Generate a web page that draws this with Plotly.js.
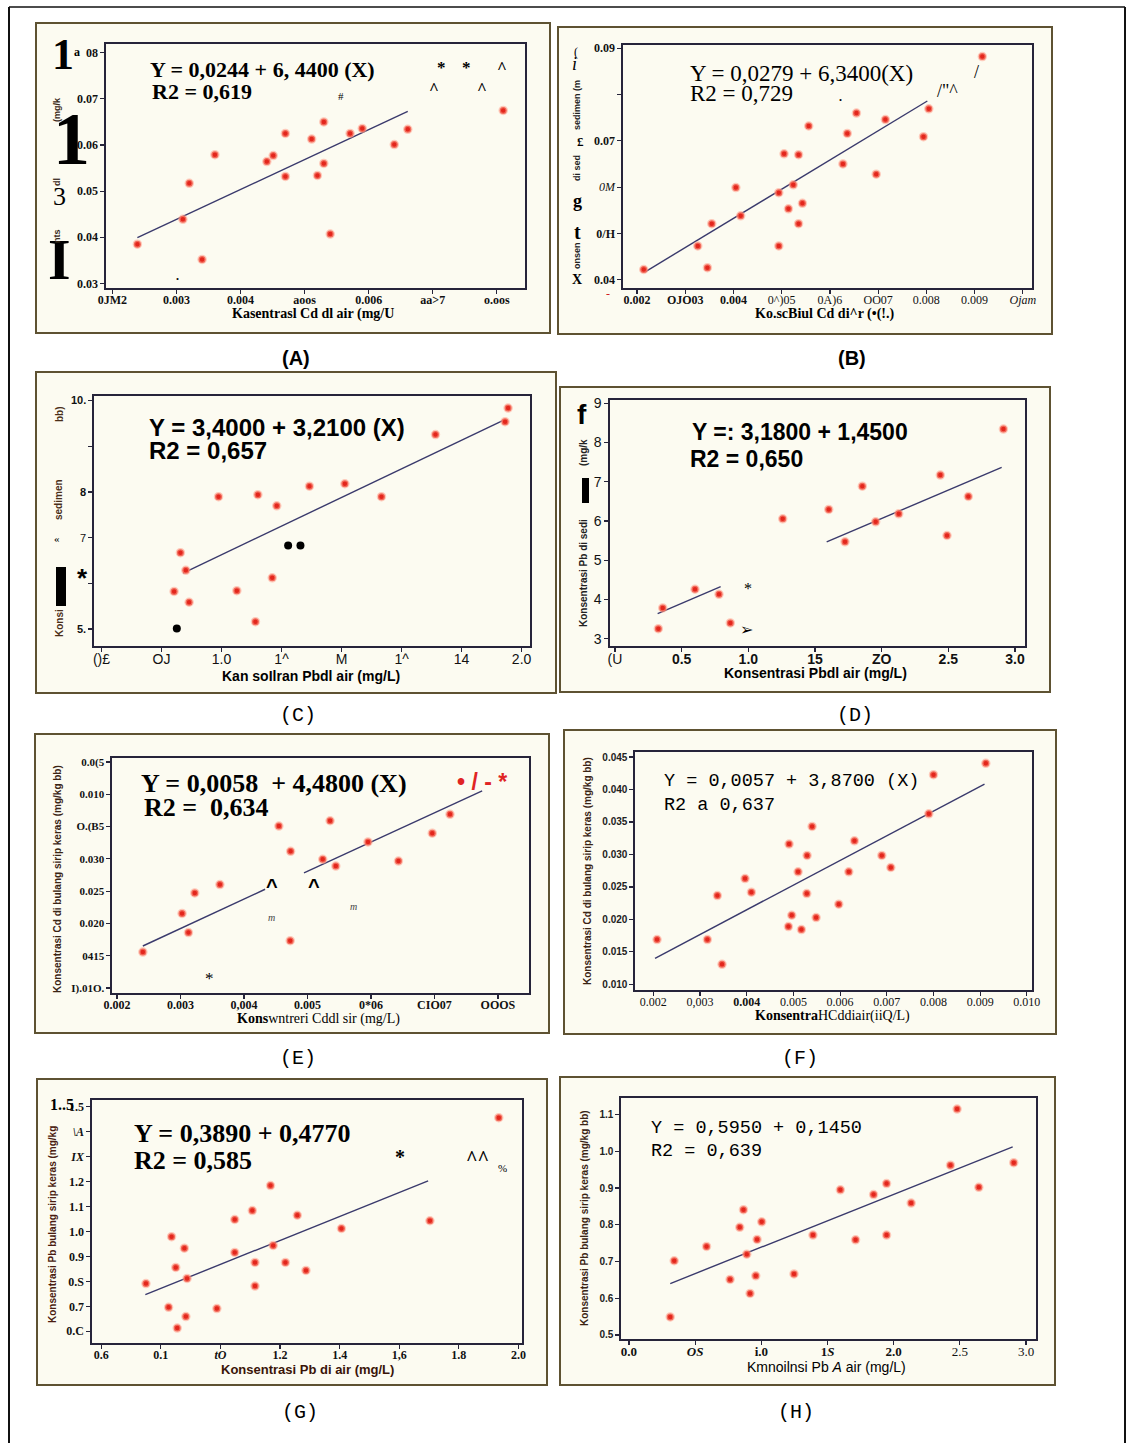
<!DOCTYPE html>
<html><head><meta charset="utf-8">
<script src="https://cdn.plot.ly/plotly-3.0.1.min.js"></script>
<style>html,body{margin:0;padding:0;background:#fff}#chart{width:1132px;height:1443px}</style>
</head><body><div id="chart"></div>
<script>
// ================= DATA =================
// (A) Cd air vs Cd sedimen
const aX=[0.00239,0.00310,0.00320,0.00340,0.00360,0.00441,0.00451,0.00470,0.00470,0.00511,0.00520,0.00530,0.00530,0.00540,0.00571,0.00590,0.00640,0.00661,0.00810];
const aY=[0.0385,0.0439,0.0517,0.0352,0.0579,0.0564,0.0577,0.0625,0.0532,0.0613,0.0534,0.0650,0.0560,0.0407,0.0625,0.0636,0.0601,0.0634,0.0675];
const aFitX=[0.00239,0.00661], aFitY=[0.0399,0.0673];
const aXTickVals=[0.002,0.003,0.004,0.005,0.006,0.007,0.008];
const aXTickText=["0JM2","0.003","0.004","aoos","0.006","aa>7","o.oos"];
const aYTickVals=[0.08,0.07,0.06,0.05,0.04,0.03];
const aYTickText=["08","0.07","0.06","0.05","0.04","0.03"];
// (B)
const bX=[0.00214,0.00326,0.00346,0.00355,0.00405,0.00415,0.00494,0.00494,0.00505,0.00514,0.00524,0.00535,0.00535,0.00543,0.00556,0.00627,0.00636,0.00655,0.00696,0.00715,0.00794,0.00805,0.00916];
const bY=[0.0422,0.0473,0.0426,0.0521,0.0599,0.0538,0.0588,0.0473,0.0672,0.0553,0.0605,0.0670,0.0521,0.0565,0.0732,0.0650,0.0716,0.0760,0.0628,0.0746,0.0709,0.0769,0.0882];
const bFitX=[0.00217,0.00802], bFitY=[0.0417,0.0786];
const bXTickVals=[0.002,0.003,0.004,0.005,0.006,0.007,0.008,0.009,0.010];
const bXTickText=["<b>0.002</b>","<b>OJO03</b>","<b>0.004</b>","0^)05","0A)6","OO07","0.008","0.009","<i>Ojam</i>"];
const bYTickVals=[0.09,0.08,0.07,0.06,0.05,0.04];
const bYTickText=["<b>0.09</b>","","<b>0.07</b>","<i>0M</i>","<b>0/H</b>","<b>0.04</b>"];
// (C)
const cX=[0.842,0.863,0.881,0.892,0.990,1.051,1.113,1.121,1.169,1.184,1.293,1.411,1.533,1.713,1.945,1.955];
const cY=[5.825,6.672,6.285,5.587,7.897,5.840,5.163,7.942,6.122,7.697,8.128,8.180,7.897,9.257,9.539,9.837];
const cFitX=[0.872,1.944], cFitY=[6.226,9.584];
const cDarkX=[0.851,1.222,1.263], cDarkY=[5.015,6.828,6.828];
const cXTickVals=[0.6,0.8,1.0,1.2,1.4,1.6,1.8,2.0];
const cXTickText=["()£","OJ","1.0","1^","M","1^","14","2.0"];
const cYTickVals=[10,9,8,7,6,5];
const cYTickText=["<b>10.</b>","","<b>8</b>","7","","<b>5.</b>"];
// (D)
const dX=[0.325,0.358,0.600,0.780,0.865,1.258,1.603,1.725,1.855,1.955,2.128,2.44,2.49,2.65,2.913];
const dY=[3.255,3.783,4.26,4.132,3.40,6.055,6.294,5.468,6.889,5.979,6.183,7.17,5.63,6.625,8.345];
const dFitX=[0.32,0.7925,null,1.5875,2.90], dFitY=[3.638,4.328,null,5.468,7.366];
const dXTickVals=[0,0.5,1.0,1.5,2.0,2.5,3.0];
const dXTickText=["(U","<b>0.5</b>","<b>1.0</b>","<b>15</b>","<b>ZO</b>","<b>2.5</b>","<b>3.0</b>"];
const dYTickVals=[9,8,7,6,5,4,3];
const dYTickText=["9","8","7","6","5","4","3"];
// (E)
const eX=[0.002406,0.003024,0.003124,0.003224,0.00362,0.004549,0.004734,0.004728,0.00524,0.005356,0.005446,0.005953,0.006433,0.006966,0.007245];
const eY=[0.01556,0.02154,0.01858,0.02472,0.02602,0.03507,0.03117,0.01733,0.02992,0.0359,0.02888,0.03262,0.02966,0.03397,0.03689];
const eFitX=[0.002406,0.004332,null,0.004945,0.007752], eFitY=[0.0165,0.02529,null,0.02784,0.04053];
const eXTickVals=[0.002,0.003,0.004,0.005,0.006,0.007,0.008];
const eXTickText=["0.002","0.003","0,004","0.005","0*06","CIO07","OOOS"];
const eYTickVals=[0.045,0.040,0.035,0.030,0.025,0.020,0.015,0.010];
const eYTickText=["0.0(5","0.010","O.(B5","0.030","0.025","0.020","0415","I).01O."];
// (F)
const fX=[0.002079,0.003157,0.003371,0.003471,0.003964,0.0041,0.004907,0.004893,0.004964,0.0051,0.005171,0.005293,0.005286,0.0054,0.005486,0.005971,0.006186,0.006307,0.006893,0.007086,0.0079,0.008,0.009121];
const fY=[0.01689,0.01689,0.02367,0.01309,0.02629,0.02419,0.03159,0.0189,0.02064,0.02732,0.01843,0.02984,0.02398,0.03431,0.02028,0.02234,0.02732,0.0321,0.02984,0.02799,0.03626,0.04228,0.04402];
const fFitX=[0.002036,0.009093], fFitY=[0.01401,0.04084];
const fXTickVals=[0.002,0.003,0.004,0.005,0.006,0.007,0.008,0.009,0.010];
const fXTickText=["0.002","0,003","<b>0.004</b>","0.005","0.006","0.007","0.008","0.009","0.010"];
const fYTickVals=[0.045,0.040,0.035,0.030,0.025,0.020,0.015,0.010];
const fYTickText=["0.045","0.040","0.035","0.030","0.025","0.020","0.015","0.010"];
// (G)
const gX=[0.750,0.826,0.836,0.850,0.855,0.879,0.884,0.888,0.988,1.048,1.048,1.107,1.116,1.116,1.168,1.177,1.218,1.258,1.287,1.406,1.703,1.934];
const gY=[0.791,0.696,0.979,0.856,0.613,0.933,0.659,0.812,0.691,1.048,0.916,1.084,0.876,0.781,1.184,0.944,0.876,1.065,0.844,1.012,1.043,1.456];
const gFitX=[0.748,1.697], gFitY=[0.747,1.203];
const gXTickVals=[0.6,0.8,1.0,1.2,1.4,1.6,1.8,2.0];
const gXTickText=["0.6","0.1","<i>tO</i>","1.2","1.4","1,6","1.8","2.0"];
const gYTickVals=[1.5,1.4,1.3,1.2,1.1,1.0,0.9,0.8,0.7,0.6];
const gYTickText=["1.5","<i>\\A</i>","<i>IX</i>","1.2","1.1","1.0","0.9","0.S","0.7","0.C"];
// (H)
const hX=[0.312,0.342,0.586,0.764,0.837,0.865,0.890,0.915,0.958,0.968,1.003,1.247,1.390,1.597,1.712,1.848,1.946,1.946,2.132,2.429,2.479,2.643,2.907];
const hY=[0.549,0.702,0.741,0.651,0.793,0.841,0.720,0.613,0.661,0.760,0.808,0.666,0.772,0.895,0.759,0.882,0.772,0.912,0.859,0.962,1.115,0.902,0.969];
const hFitX=[0.312,2.899], hFitY=[0.640,1.012];
const hXTickVals=[0,0.5,1.0,1.5,2.0,2.5,3.0];
const hXTickText=["<b>0.0</b>","<b><i>OS</i></b>","<b>i.0</b>","<b>1<i>S</i></b>","<b>2.0</b>","2.5","3.0"];
const hYTickVals=[1.1,1.0,0.9,0.8,0.7,0.6,0.5];
const hYTickText=["1.1","1.0","0.9","0.8","0.7","0.6","0.5"];

// ================= LAYOUT / STYLE =================
const W=1132,H=1443;
const PX=p=>p/W, PY=p=>1-p/H;
const SERIF="Liberation Serif, Times New Roman, serif";
const SANS="Liberation Sans, Arial, sans-serif";
const MONO="Liberation Mono, Courier New, monospace";

const panels=[
 {box:[36,23,550,333],plot:[106,44,525,288],xr:[0.0019,0.00844],yr:[0.029,0.0819],x:aX,y:aY,fx:aFitX,fy:aFitY,
  xtv:aXTickVals,xtt:aXTickText,ytv:aYTickVals,ytt:aYTickText,xf:{family:SERIF,size:12,color:'#111'},yf:{family:SERIF,size:12,color:'#111'},bold:true},
 {box:[558,27,1052,334],plot:[623,45,1032,288],xr:[0.00171,0.01019],yr:[0.0382,0.0907],x:bX,y:bY,fx:bFitX,fy:bFitY,
  xtv:bXTickVals,xtt:bXTickText,ytv:bYTickVals,ytt:bYTickText,xf:{family:SERIF,size:12,color:'#111'},yf:{family:SERIF,size:12,color:'#111'}},
 {box:[36,372,556,693],plot:[94,396,530,646],xr:[0.575,2.028],yr:[4.63,10.10],x:cX,y:cY,fx:cFitX,fy:cFitY,
  xtv:cXTickVals,xtt:cXTickText,ytv:cYTickVals,ytt:cYTickText,xf:{family:SANS,size:14,color:'#111'},yf:{family:SANS,size:11,color:'#111'}},
 {box:[560,387,1050,692],plot:[610,400,1025,646],xr:[-0.0375,3.075],yr:[2.813,9.085],x:dX,y:dY,fx:dFitX,fy:dFitY,
  xtv:dXTickVals,xtt:dXTickText,ytv:dYTickVals,ytt:dYTickText,xf:{family:SANS,size:14,color:'#111'},yf:{family:SANS,size:14,color:'#111'}},
 {box:[35,734,549,1033],plot:[112,758,529,993],xr:[0.00192,0.00849],yr:[0.00922,0.04562],x:eX,y:eY,fx:eFitX,fy:eFitY,
  xtv:eXTickVals,xtt:eXTickText,ytv:eYTickVals,ytt:eYTickText,xf:{family:SERIF,size:12,color:'#111'},yf:{family:SERIF,size:11,color:'#111'},bold:true},
 {box:[564,730,1056,1034],plot:[635,752,1032,990],xr:[0.001607,0.01011],yr:[0.00913,0.04577],x:fX,y:fY,fx:fFitX,fy:fFitY,
  xtv:fXTickVals,xtt:fXTickText,ytv:fYTickVals,ytt:fYTickText,xf:{family:SERIF,size:12,color:'#111'},yf:{family:SANS,size:10,color:'#222'},yBold:true},
 {box:[37,1079,547,1385],plot:[92,1100,522,1343],xr:[0.569,2.012],yr:[0.553,1.527],x:gX,y:gY,fx:gFitX,fy:gFitY,
  xtv:gXTickVals,xtt:gXTickText,ytv:gYTickVals,ytt:gYTickText,xf:{family:SERIF,size:12,color:'#111'},yf:{family:SERIF,size:12,color:'#111'},bold:true},
 {box:[560,1077,1055,1385],plot:[621,1098,1036,1339],xr:[-0.060,3.075],yr:[0.489,1.145],x:hX,y:hY,fx:hFitX,fy:hFitY,
  xtv:hXTickVals,xtt:hXTickText,ytv:hYTickVals,ytt:hYTickText,xf:{family:SERIF,size:13,color:'#111'},yf:{family:SANS,size:10,color:'#222'},yBold:true}
];

const traces=[], shapes=[], annotations=[];
const layout={width:W,height:H,margin:{l:0,r:0,t:0,b:0},showlegend:false,
  paper_bgcolor:'#ffffff',plot_bgcolor:'#ffffff',shapes,annotations};

const bw=s=>'<b>'+s+'</b>';
panels.forEach((p,i)=>{
  const n=i+1, xs=n===1?'x':'x'+n, ys=n===1?'y':'y'+n;
  const xk=n===1?'xaxis':'xaxis'+n, yk=n===1?'yaxis':'yaxis'+n;
  const axCommon={showgrid:false,zeroline:false,showline:true,mirror:true,linecolor:'#26243a',linewidth:1.6,
    ticks:'outside',ticklen:4,tickwidth:1.2,tickcolor:'#26243a',tickmode:'array',fixedrange:true};
  layout[xk]=Object.assign({},axCommon,{domain:[PX(p.plot[0]),PX(p.plot[2])],range:p.xr,anchor:ys,
    tickvals:p.xtv,ticktext:p.bold?p.xtt.map(bw):p.xtt,tickfont:p.xf,ticklabelstandoff:-4});
  layout[yk]=Object.assign({},axCommon,{domain:[PY(p.plot[3]),PY(p.plot[1])],range:p.yr,anchor:xs,
    tickvals:p.ytv,ticktext:(p.bold||p.yBold)?p.ytt.map(bw):p.ytt,tickfont:p.yf});
  traces.push({type:'scatter',mode:'lines',x:p.fx,y:p.fy,xaxis:xs,yaxis:ys,connectgaps:false,
    line:{color:'#3a3a6c',width:1.4},hoverinfo:'skip'});
  traces.push({type:'scatter',mode:'markers',x:p.x,y:p.y,xaxis:xs,yaxis:ys,
    marker:{size:7,color:'#e3261c',line:{color:'rgba(255,160,140,0.55)',width:2.5}},hoverinfo:'skip'});
  if(n===3){
    traces.push({type:'scatter',mode:'markers',x:cDarkX,y:cDarkY,xaxis:xs,yaxis:ys,
      marker:{size:8,color:'#000'},hoverinfo:'skip'});
  }
  shapes.push({type:'rect',xref:'paper',yref:'paper',layer:'below',
    x0:PX(p.box[0]),x1:PX(p.box[2]),y0:PY(p.box[3]),y1:PY(p.box[1]),
    line:{color:'#5e5232',width:2},fillcolor:'#fcfbf1'});
});

// outer frame
shapes.push({type:'line',xref:'paper',yref:'paper',x0:PX(9),x1:PX(9),y0:PY(7),y1:PY(1443),line:{color:'#111',width:2}});
shapes.push({type:'line',xref:'paper',yref:'paper',x0:PX(9),x1:PX(1125),y0:PY(7),y1:PY(7),line:{color:'#111',width:1.5}});
shapes.push({type:'line',xref:'paper',yref:'paper',x0:PX(1125),x1:PX(1125),y0:PY(7),y1:PY(1443),line:{color:'#111',width:2}});
// black scan artefact bars
shapes.push({type:'rect',xref:'paper',yref:'paper',x0:PX(56),x1:PX(66),y0:PY(606),y1:PY(567),line:{width:0},fillcolor:'#000'});
shapes.push({type:'rect',xref:'paper',yref:'paper',x0:PX(582),x1:PX(589),y0:PY(503),y1:PY(478),line:{width:0},fillcolor:'#000'});

function A(px,py,text,o){
  o=o||{};
  annotations.push({xref:'paper',yref:'paper',x:PX(px),y:PY(py),text:text,showarrow:false,
    xanchor:o.xa||'left',yanchor:o.ya||'middle',textangle:o.angle||0,
    font:{family:o.family||SERIF,size:o.size||14,color:o.color||'#000'}});
}
const V={angle:-90,xa:'center'};

// ---- (A)
A(148,69,'<b>Y = 0,0244 + 6, 4400 (X)</b>',{size:22});
A(150,91,'<b>R2 = 0,619</b>',{size:22});
A(435,67,'<b>*</b>',{size:17});A(460,67,'<b>*</b>',{size:17});A(495,67,'<b>^</b>',{size:17});
A(427,89,'<b>^</b>',{size:17});A(475,89,'<b>^</b>',{size:17});A(336,96,'#',{size:11});A(174,276,'<b>.</b>',{size:12});
A(63,54,'<b>1</b>',{size:44,xa:'center'});
A(71,139,'<b>1</b>',{size:74,xa:'center'});
A(59,197,'3',{size:26,xa:'center'});
A(59,260,'<b>I</b>',{size:58,xa:'center'});
A(77,52,'<b>a</b>',{size:12,xa:'center'});
A(57,110,'<b>(mg/k</b>',Object.assign({size:9,family:SANS,color:'#3a2a1a'},V));
A(57,182,'<b>dl</b>',Object.assign({size:9,family:SANS,color:'#3a2a1a'},V));
A(57,236,'<b>nts</b>',Object.assign({size:9,family:SANS,color:'#3a2a1a'},V));
A(313,314,'<b>Kasentrasl Cd dl air (mg/U</b>',{size:14,xa:'center'});
A(296,358,'<b>(A)</b>',{size:20,family:SANS,xa:'center'});
// ---- (B)
A(688,73,'Y = 0,0279 + 6,3400(X)',{size:23});
A(688,93,'R2 = 0,729',{size:23});
A(976,72,'/',{size:18,xa:'center'});A(935,91,'/"^',{size:18});A(840,97,'<b>.</b>',{size:12,xa:'center'});
A(575,64,'<i>i</i>',{size:18,xa:'center'});
A(576,52,'(',{size:12,xa:'center'});
A(580,141,'<b>£</b>',{size:13,xa:'center'});
A(577,201,'<b>g</b>',{size:18,xa:'center'});
A(577,232,'<b>t</b>',{size:20,xa:'center'});
A(577,280,'<b>X</b>',{size:14,xa:'center'});
A(577,105,'<b>sedimen (m</b>',Object.assign({size:9,family:SANS,color:'#222'},V));
A(577,168,'<b>di sed</b>',Object.assign({size:9,family:SANS,color:'#222'},V));
A(577,256,'<b>onsen</b>',Object.assign({size:9,family:SANS,color:'#222'},V));
A(608,294,'-',{size:12,color:'#d02020',xa:'center'});
A(825,314,'<b>Ko.scBiul Cd di^r (•(!.)</b>',{size:14,xa:'center'});
A(852,358,'<b>(B)</b>',{size:20,family:SANS,xa:'center'});
// ---- (C)
A(147,428,'<b>Y = 3,4000 + 3,2100 (X)</b>',{size:24,family:SANS});
A(147,450,'<b>R2 = 0,657</b>',{size:24,family:SANS});
A(82,578,'<b>*</b>',{size:26,family:SANS,xa:'center'});
A(57,538,'«',{size:11,xa:'center'});
A(59,414,'<b>bb)</b>',Object.assign({size:10,family:SANS,color:'#4a2e18'},V));
A(59,500,'<b>sedimen</b>',Object.assign({size:10,family:SANS,color:'#4a2e18'},V));
A(59,623,'<b>Konsi</b>',Object.assign({size:10,family:SANS,color:'#4a2e18'},V));
A(311,676,'<b>Kan soIlran Pbdl air (mg/L)</b>',{size:14,family:SANS,xa:'center'});
A(298,715,'(C)',{size:20,family:MONO,xa:'center'});
// ---- (D)
A(690,432,'<b>Y =: 3,1800 + 1,4500</b>',{size:23,family:SANS});
A(688,459,'<b>R2 = 0,650</b>',{size:23,family:SANS});
A(748,589,'*',{size:16,xa:'center'});
A(746,629,'<b>➢</b>',{size:16,family:'DejaVu Sans',xa:'center'});
A(582,414,'<b>f</b>',{size:28,family:SANS,xa:'center'});
A(583,453,'<b>(mg/k</b>',Object.assign({size:10,family:SANS,color:'#222'},V));
A(583,573,'<b>Konsentrasi Pb di sedi</b>',Object.assign({size:10,family:SANS,color:'#222'},V));
A(815,673,'<b>Konsentrasi Pbdl air (mg/L)</b>',{size:14,family:SANS,xa:'center'});
A(855,715,'(D)',{size:20,family:MONO,xa:'center'});
// ---- (E)
A(139,783,'<b>Y = 0,0058&nbsp; + 4,4800 (X)</b>',{size:26});
A(142,807,'<b>R2 =&nbsp; 0,634</b>',{size:26});
A(455,782,'<b>• / - *</b>',{size:23,family:SANS,color:'#e02424'});
A(272,886,'<b>^</b>',{size:20,family:SANS,xa:'center'});
A(314,886,'<b>^</b>',{size:20,family:SANS,xa:'center'});
A(271,917,'<i>m</i>',{size:10,xa:'center',color:'#444'});
A(353,906,'<i>m</i>',{size:10,xa:'center',color:'#444'});
A(209,979,'*',{size:17,xa:'center'});
A(57,879,'<b>Konsentrasi Cd di bulang sirip keras (mg/kg bb)</b>',Object.assign({size:10,family:SANS,color:'#3a2414'},V));
A(318,1019,'<b>Kons</b>wntreri Cddl sir (mg/L)',{size:14,xa:'center'});
A(298,1058,'(E)',{size:20,family:MONO,xa:'center'});
// ---- (F)
A(662,781,'Y = 0,0057 + 3,8700 (X)',{size:18.5,family:MONO});
A(662,805,'R2 a 0,637',{size:18.5,family:MONO});
A(587,871,'<b>Konsentrasi Cd di bulang sirip keras (mg/kg bb)</b>',Object.assign({size:10,family:SANS,color:'#3a2414'},V));
A(832,1016,'<b>Konsentra</b>HCddiair(iiQ/L)',{size:14,xa:'center'});
A(800,1058,'(F)',{size:20,family:MONO,xa:'center'});
// ---- (G)
A(132,1133,'<b>Y = 0,3890 + 0,4770</b>',{size:26});
A(132,1160,'<b>R2 = 0,585</b>',{size:26});
A(400,1157,'<b>*</b>',{size:20,xa:'center'});
A(464,1158,'<b>^^</b>',{size:20});A(496,1168,'%',{size:11});
A(48,1104,'<b>1..5</b>',{size:16});
A(52,1225,'<b>Konsentrasi Pb bulang sirip keras (mg/kg</b>',Object.assign({size:10,family:SANS,color:'#4a1c10'},V));
A(307,1369,'<b>Konsentrasi Pb di air (mg/L)</b>',{size:13,family:SANS,color:'#3a1408',xa:'center'});
A(300,1412,'(G)',{size:20,family:MONO,xa:'center'});
// ---- (H)
A(649,1128,'Y = 0,5950 + 0,1450',{size:18.5,family:MONO});
A(649,1151,'R2 = 0,639',{size:18.5,family:MONO});
A(584,1218,'<b>Konsentrasi Pb bulang sirip keras (mg/kg bb)</b>',Object.assign({size:10,family:SANS,color:'#3a2414'},V));
A(826,1367,'Kmnoilnsi Pb <i>A</i> air (mg/L)',{size:14,family:SANS,xa:'center'});
A(796,1412,'(H)',{size:20,family:MONO,xa:'center'});

Plotly.newPlot('chart',traces,layout,{staticPlot:true,displayModeBar:false});
</script></body></html>
